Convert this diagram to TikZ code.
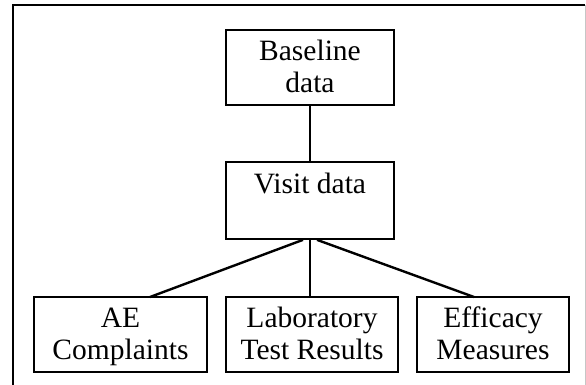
\documentclass[tikz,border=0pt]{standalone}
\usepackage{fontspec}
\setmainfont{Liberation Serif}
\newcommand\tstrut{\rule[-7pt]{0pt}{32pt}}
\begin{document}
\begin{tikzpicture}[x=1pt,y=-1pt,
  box/.style={draw=black,line width=1.7pt,rectangle,inner sep=0pt,align=center,
    minimum height=75pt,font=\fontsize{29.5}{32}\selectfont},
  link/.style={draw=black,line width=2.4pt}]
\useasboundingbox (0,0) rectangle (586,385);
\fill[white] (0,0) rectangle (586,385);
% frame
\draw[line width=2.5pt] (13,385) -- (13,5) -- (585,5);
\draw[gray!45,line width=1pt] (585,5) -- (585,385);
% nodes
\node[box,minimum width=168pt] (base) at (310,67.5) {\tstrut Baseline\\\tstrut data};
\node[box,minimum width=168pt,minimum height=77pt] (visit) at (310,200.5) {\tstrut Visit data\\\tstrut};
\node[box,minimum width=173pt] (ae) at (120.5,334.5) {\tstrut AE\\\tstrut Complaints};
\node[box,minimum width=172pt] (lab) at (312,334.5) {\tstrut Laboratory\\\tstrut Test Results};
\node[box,minimum width=152pt] (eff) at (493,334.5) {\tstrut Efficacy\\\tstrut Measures};
% connectors
\coordinate (vl) at ([xshift=-7pt]visit.south);
\coordinate (vr) at ([xshift=7pt]visit.south);
\coordinate (aetop) at (150,297);
\coordinate (efftop) at (474,297);
\draw[link] (base.south) -- (visit.north);
\draw[link] (vl) -- (aetop);
\draw[link] (visit.south) -- (visit.south |- lab.north);
\draw[link] (vr) -- (efftop);
\end{tikzpicture}
\end{document}
